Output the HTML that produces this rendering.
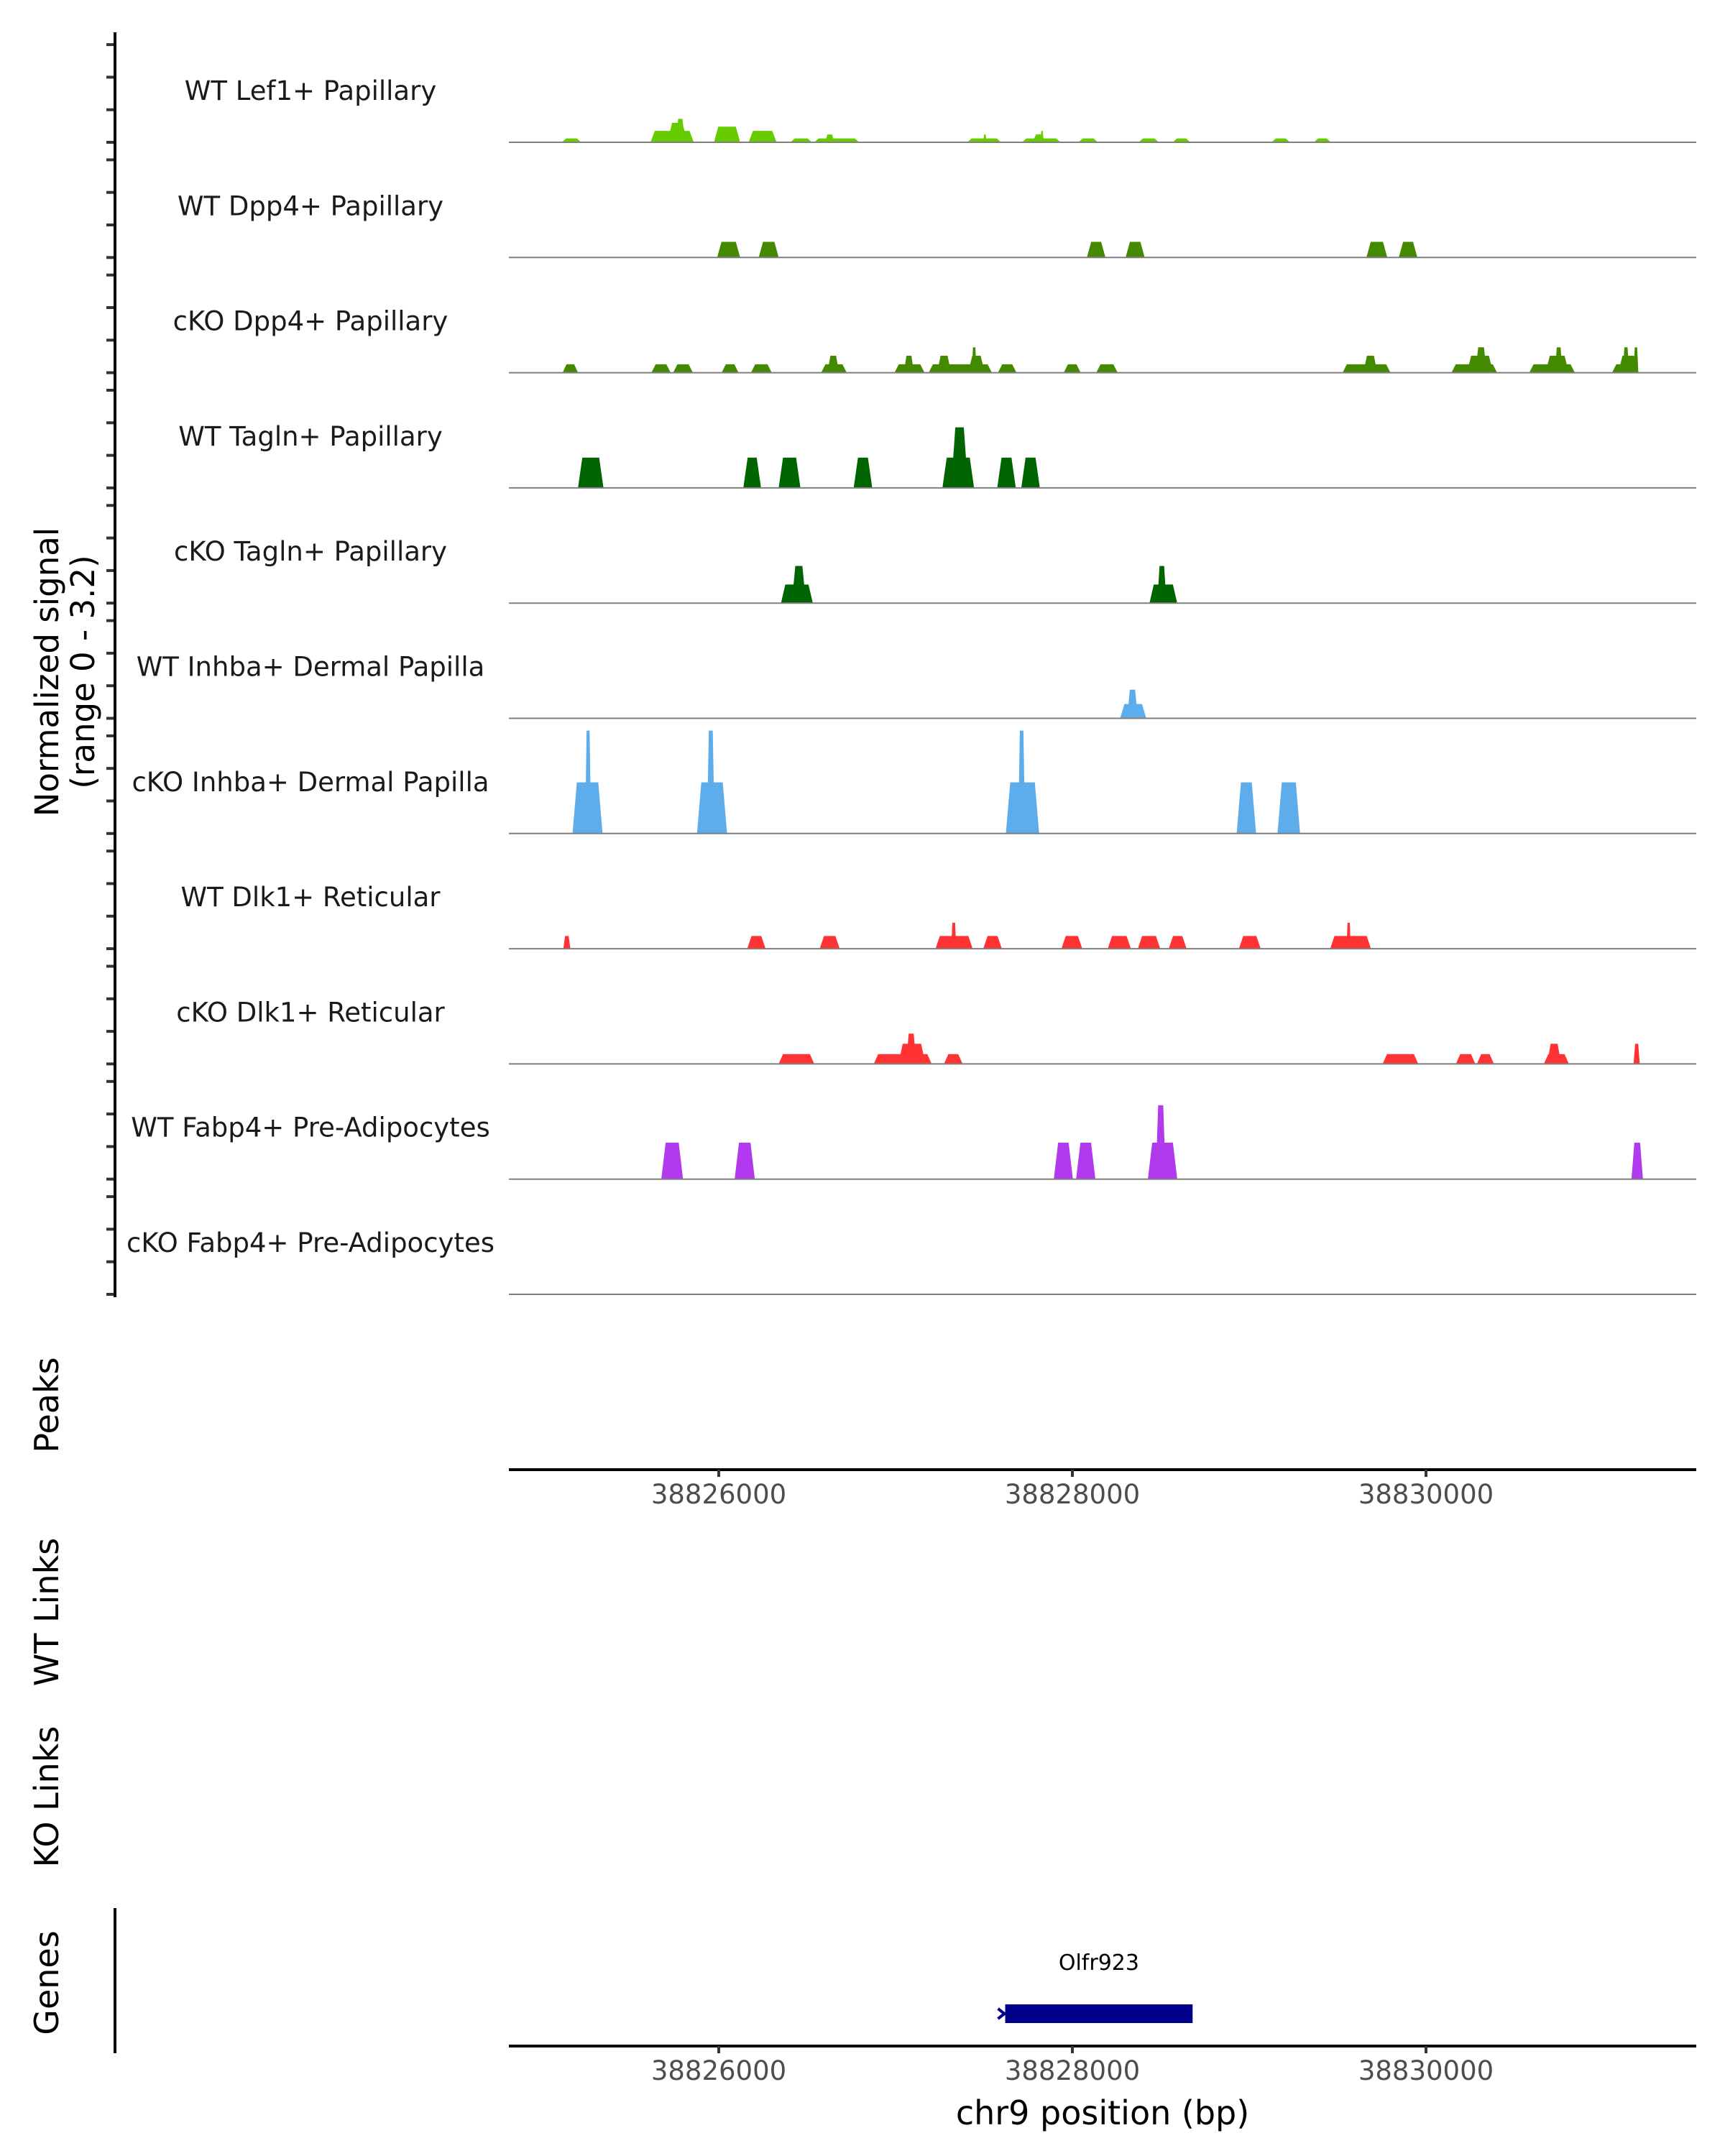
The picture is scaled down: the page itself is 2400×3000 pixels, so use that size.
<!DOCTYPE html>
<html><head><meta charset="utf-8"><title>Coverage tracks</title>
<style>
html,body{margin:0;padding:0;background:#fff;}
svg{display:block;font-family:"DejaVu Sans","Liberation Sans",sans-serif;}
</style></head>
<body>
<svg id="chart" width="2400" height="3000" viewBox="0 0 2400 3000" xmlns="http://www.w3.org/2000/svg">
<rect width="2400" height="3000" fill="#fff"/>
<g id="tracks"></g>
<g id="axes"></g>
<text transform="translate(81,935) rotate(-90)" text-anchor="middle" font-size="45" fill="#000">Normalized signal</text>
<text transform="translate(131,935) rotate(-90)" text-anchor="middle" font-size="45" fill="#000">(range 0 - 3.2)</text>
<text transform="translate(81,1955) rotate(-90)" text-anchor="middle" font-size="46" fill="#000">Peaks</text>
<text transform="translate(81,2243) rotate(-90)" text-anchor="middle" font-size="46" fill="#000">WT Links</text>
<text transform="translate(81,2500) rotate(-90)" text-anchor="middle" font-size="46" fill="#000">KO Links</text>
<text transform="translate(81,2759) rotate(-90)" text-anchor="middle" font-size="46" fill="#000">Genes</text>
<text x="1534" y="2956" text-anchor="middle" font-size="46" fill="#000">chr9 position (bp)</text>
</svg>
<script>
const trackNames = ["WT Lef1+ Papillary","WT Dpp4+ Papillary","cKO Dpp4+ Papillary","WT Tagln+ Papillary","cKO Tagln+ Papillary","WT Inhba+ Dermal Papilla","cKO Inhba+ Dermal Papilla","WT Dlk1+ Reticular","cKO Dlk1+ Reticular","WT Fabp4+ Pre-Adipocytes","cKO Fabp4+ Pre-Adipocytes"];
const trackColors = ["#66cc00","#448a00","#448a00","#006400","#006400","#5dadec","#5dadec","#ff3333","#ff3333","#b23aee","#b23aee"];
const xTicks = [38826000,38828000,38830000];
const yTicks = [0,1,2,3];

const t1Start=[38825112,38825614,38825711,38825758,38825973,38826169,38826405,38826540,38826601,38827406,38827496,38827715,38827776,38827820,38828034,38828375,38828567,38829126,38829366];
const t1End  =[38825222,38825859,38825820,38825807,38826121,38826327,38826527,38826794,38826654,38827597,38827514,38827933,38827846,38827837,38828144,38828489,38828667,38829231,38829462];
const t1Val  =[0.12,0.35,0.6,0.72,0.48,0.35,0.12,0.12,0.24,0.12,0.24,0.12,0.24,0.35,0.12,0.12,0.12,0.12,0.12];

const t2Start=[38825991,38826226,38828082,38828301,38829663,38829846];
const t2End  =[38826121,38826339,38828187,38828409,38829781,38829951];
const t2Val  =[0.48,0.48,0.48,0.48,0.48,0.48];

const t3Start=[38825117,38825619,38825742,38826016,38826182,38826579,38826615,38826994,38827047,38827187,38827235,38827410,38827431,38827579,38827951,38828135,38829528,38829646,38830144,38830231,38830279,38830584,38830676,38830729,38831052,38831087,38831113,38831174];
const t3End  =[38825204,38825728,38825854,38826112,38826300,38826724,38826680,38827164,38827104,38827545,38827314,38827505,38827458,38827684,38828047,38828256,38829799,38829725,38830402,38830380,38830344,38830842,38830808,38830772,38831201,38831201,38831149,38831201];
const t3Val  =[0.26,0.26,0.26,0.26,0.26,0.26,0.52,0.26,0.52,0.26,0.52,0.52,0.78,0.26,0.26,0.26,0.26,0.52,0.26,0.52,0.78,0.26,0.52,0.78,0.26,0.52,0.78,0.78];

const t4Start=[38825204,38826139,38826339,38826763,38827265,38827314,38827575,38827711];
const t4End  =[38825348,38826239,38826462,38826868,38827444,38827410,38827680,38827816];
const t4Val  =[0.93,0.93,0.93,0.93,0.93,1.86,0.93,0.93];

const t5Start=[38826352,38826413,38828436,38828480];
const t5End  =[38826532,38826493,38828593,38828532];
const t5Val  =[0.57,1.14,0.57,1.14];

const t6Start=[38828270,38828310];
const t6End  =[38828418,38828370];
const t6Val  =[0.44,0.88];

const t7Start=[38825173,38825244,38825877,38825933,38827624,38827693,38828929,38829160];
const t7End  =[38825343,38825278,38826047,38825977,38827812,38827733,38829039,38829288];
const t7Val  =[1.57,3.16,1.57,3.16,1.57,3.16,1.57,1.57];

const t8Start=[38825121,38826161,38826571,38827226,38827314,38827496,38827938,38828200,38828370,38828545,38828942,38829458,38829550];
const t8End  =[38825161,38826265,38826684,38827436,38827344,38827601,38828056,38828331,38828497,38828646,38829065,38829689,38829575];
const t8Val  =[0.39,0.39,0.39,0.39,0.8,0.39,0.39,0.39,0.39,0.39,0.39,0.39,0.8];

const t9Start=[38826339,38826877,38827016,38827060,38827274,38829755,38830169,38830288,38830667,38830685,38831174];
const t9End  =[38826540,38827204,38827169,38827117,38827379,38829956,38830279,38830384,38830808,38830764,38831209];
const t9Val  =[0.3,0.3,0.62,0.93,0.3,0.3,0.3,0.3,0.3,0.62,0.62];

const t10Start=[38825675,38826090,38827895,38828021,38828427,38828471,38831162];
const t10End  =[38825798,38826204,38828003,38828130,38828593,38828528,38831227];
const t10Val  =[1.12,1.12,1.12,1.12,1.12,2.27,1.12];

const t11Start=[];
const t11End  =[];
const t11Val  =[];

const geneStart = 38827620, geneEnd = 38828680, geneName = "Olfr923";

const NS="http://www.w3.org/2000/svg";
const PX_PER_BP = 0.246, REF_BP = 38828000, REF_PX = 1492;
function xScale(bp){ return REF_PX + (bp - REF_BP) * PX_PER_BP; }
const PX_PER_UNIT = 45.3;
function yScale(v, base){ return base - v * PX_PER_UNIT; }
function baseOf(i){ return 198 + i * 160.3; }
function mk(tag, attrs, parent){ const e=document.createElementNS(NS,tag); for(const k in attrs) e.setAttribute(k,attrs[k]); parent.appendChild(e); return e; }

const starts=[t1Start,t2Start,t3Start,t4Start,t5Start,t6Start,t7Start,t8Start,t9Start,t10Start,t11Start];
const ends=[t1End,t2End,t3End,t4End,t5End,t6End,t7End,t8End,t9End,t10End,t11End];
const vals=[t1Val,t2Val,t3Val,t4Val,t5Val,t6Val,t7Val,t8Val,t9Val,t10Val,t11Val];

const tracks=document.getElementById('tracks');
const axes=document.getElementById('axes');
const PLOT_L=708, PLOT_R=2360;

for(let i=0;i<trackNames.length;i++){
  const base=baseOf(i);
  const g=mk('g',{},tracks);
  
  
  const lbl=mk('text',{x:432,y:base-59,'text-anchor':'middle','font-size':37,fill:'#1a1a1a'},g);
  lbl.textContent=trackNames[i];
  
  
  for(let j=0;j<starts[i].length;j++){
    const x0=xScale(starts[i][j]), x1=xScale(ends[i][j]), yt=yScale(vals[i][j],base);
    const r=Math.min(6,(x1-x0)/4);
    const p=mk('polygon',{points:`${x0},${base} ${x0+r},${yt} ${x1-r},${yt} ${x1},${base}`,fill:trackColors[i]},g);
    
    
  }
  const bl=mk('line',{x1:PLOT_L,x2:PLOT_R,y1:base,y2:base,stroke:'#7f7f7f','stroke-width':2},g);
  
  
  for(const t of yTicks){
    const y=yScale(t,base);
    const tk=mk('line',{x1:148,x2:160,y1:y,y2:y,stroke:'#333','stroke-width':4},axes);
    
    
  }
}
const ya=mk('line',{x1:160,x2:160,y1:45,y2:1805,stroke:'#000','stroke-width':4},axes);



const ga=mk('line',{x1:160,x2:160,y1:2655,y2:2857,stroke:'#000','stroke-width':4},axes);



for(const ay of [2045,2847]){
  const al=mk('line',{x1:PLOT_L,x2:PLOT_R,y1:ay,y2:ay,stroke:'#000','stroke-width':4},axes);
  
  
  for(const t of xTicks){
    const x=xScale(t);
    const tk=mk('line',{x1:x,x2:x,y1:ay,y2:ay+10,stroke:'#333','stroke-width':4},axes);
    
    
    const tl=mk('text',{x:x,y:ay+47,'text-anchor':'middle','font-size':37,fill:'#4d4d4d'},axes);
    tl.textContent=String(t);
    
    
  }
}

const gx0=xScale(geneStart), gx1=xScale(geneEnd);
const gb=mk('rect',{x:gx0,y:2789,width:gx1-gx0,height:26,fill:'#00008b'},tracks);


const ar=mk('polyline',{points:`${gx0-10},${2795} ${gx0-1},${2802} ${gx0-10},${2809}`,fill:'none',stroke:'#00008b','stroke-width':4},tracks);


const gl=mk('text',{x:(gx0+gx1)/2,y:2741,'text-anchor':'middle','font-size':30,fill:'#000'},tracks);
gl.textContent=geneName;


</script>
</body></html>
